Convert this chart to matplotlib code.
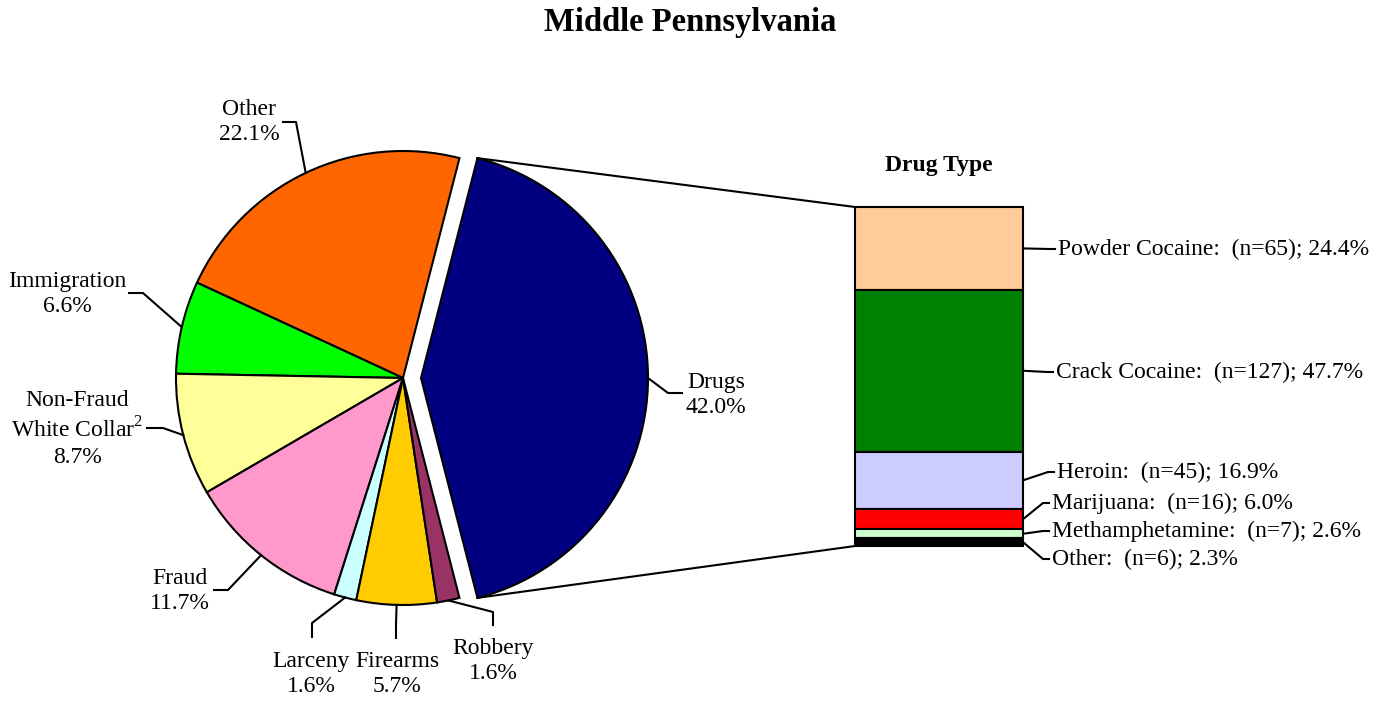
import numpy as np
import matplotlib
matplotlib.use('Agg')
import matplotlib.pyplot as plt

plt.rcParams['font.family'] = ['Liberation Serif', 'DejaVu Serif']
plt.rcParams['mathtext.fontset'] = 'custom'
plt.rcParams['mathtext.rm'] = 'Liberation Serif'

# offense shares (pie)
offense = ['Drugs', 'Other', 'Immigration', 'Non-Fraud\nWhite Collar$^{2}$', 'Fraud',
           'Larceny', 'Firearms', 'Robbery']
offense_pct = [42.0, 22.1, 6.6, 8.7, 11.7, 1.6, 5.7, 1.6]
offense_col = ['#000080', '#FF6600', '#00FF00', '#FFFF99', '#FF99CC',
               '#CCFFFF', '#FFCC00', '#993366']

# drug type breakdown (bar, top to bottom)
drug = ['Powder Cocaine', 'Crack Cocaine', 'Heroin', 'Marijuana',
        'Methamphetamine', 'Other']
drug_n = [65, 127, 45, 16, 7, 6]
drug_pct = [24.4, 47.7, 16.9, 6.0, 2.6, 2.3]
drug_col = ['#FFCC99', '#008000', '#CCCCFF', '#FF0000', '#CCFFCC', '#000000']

W, H = 1390, 702
def Y(y):
    return H - y

fig = plt.figure(figsize=(W / 100, H / 100), dpi=100)
ax = fig.add_axes([0, 0, 1, 1])

# pie
cx, cy, R = 403, Y(378), 227
start = -offense_pct[0] / sum(offense_pct) * 360 / 2
wedges, _ = ax.pie(offense_pct, colors=offense_col, center=(cx, cy), radius=R,
                   startangle=start, counterclock=True,
                   explode=[18, 0, 0, 0, 0, 0, 0, 0],
                   wedgeprops=dict(edgecolor='black', linewidth=1.5))
ax.set_xlim(0, W)
ax.set_ylim(0, H)
ax.axis('off')

# pie labels: (elbow, end, text position, line spacing) in image pixels
lab_pos = [
    ((668, 393), (682, 393), (716, 395), 1.25),
    ((296, 122), (283, 122), (249, 122), 1.25),
    ((143, 293), (129, 293), (67, 294), 1.25),
    ((163, 428), (147, 428), (77, 429), 1.3),
    ((228, 590), (214, 590), (180, 591), 1.25),
    ((312, 623), (312, 637), (311, 674), 1.25),
    ((396, 625), (396, 638), (397, 674), 1.25),
    ((493, 612), (493, 625), (493, 661), 1.25),
]
for w, name, pct, (e1, e2, tp, ls) in zip(wedges, offense, offense_pct, lab_pos):
    mid = np.radians((w.theta1 + w.theta2) / 2)
    px = w.center[0] + w.r * np.cos(mid)
    py = w.center[1] + w.r * np.sin(mid)
    ax.plot([px, e1[0], e2[0]], [py, Y(e1[1]), Y(e2[1])], color='black', lw=1.5)
    ax.text(tp[0], Y(tp[1]), f'{name}\n{pct:.1f}%', ha='center', va='center',
            fontsize=17, linespacing=ls)

# stacked bar
bx, bw = 939, 168
btop, bbot = Y(207), Y(546)
scale = (btop - bbot) / sum(drug_pct)
heights = np.array(drug_pct) * scale
bottoms = btop - np.cumsum(heights)
ax.bar([bx] * len(drug), heights, bottom=bottoms, width=bw, color=drug_col,
       edgecolor='black', linewidth=1.5, zorder=3)
ax.text(bx, Y(166), 'Drug Type', ha='center', va='center', fontsize=17,
        fontweight='bold')

# connector lines from the exploded wedge to the bar
dw = wedges[0]
for ang, yb in [(dw.theta2, btop), (dw.theta1, bbot)]:
    a = np.radians(ang)
    ax.plot([dw.center[0] + dw.r * np.cos(a), bx - bw / 2],
            [dw.center[1] + dw.r * np.sin(a), yb], color='black', lw=1.5)

# bar labels
txt_pos = [(1058, 249), (1056, 372), (1057, 472), (1052, 503), (1052, 531), (1052, 559)]
for name, n, pct, h, b, (tx, ty) in zip(drug, drug_n, drug_pct, heights, bottoms, txt_pos):
    ax.plot([bx + bw / 2, tx - 9, tx - 3], [b + h / 2, Y(ty), Y(ty)], color='black', lw=1.5)
    ax.text(tx, Y(ty), f'{name}:  (n={n}); {pct:.1f}%', ha='left', va='center',
            fontsize=17)

fig.text(690 / W, 1 - 22 / H, 'Middle Pennsylvania', ha='center', va='center',
         fontsize=23.5, fontweight='bold')

fig.savefig('out.png', dpi=100)
